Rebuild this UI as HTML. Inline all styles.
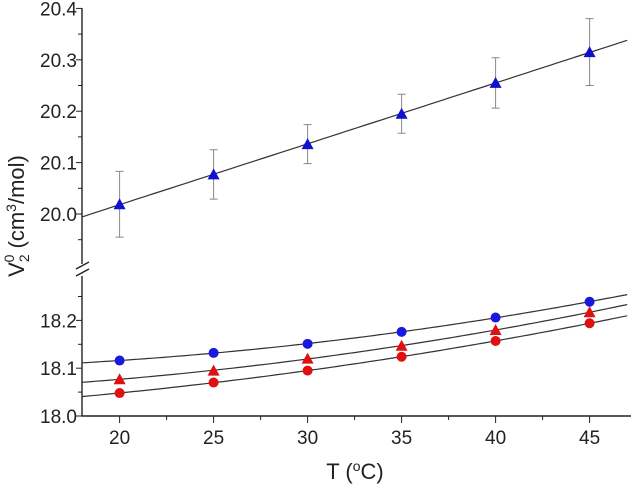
<!DOCTYPE html>
<html><head><meta charset="utf-8"><style>
body{margin:0;background:#fff;}
svg{display:block;font-family:"Liberation Sans",Arial,sans-serif;}
</style></head><body>
<svg id="chart" width="631" height="486" viewBox="0 0 631 486"></svg>
<script>
const temps=[20,25,30,35,40,45];
const upperVals=[20.019,20.077,20.136,20.195,20.255,20.315];
const upperErr=[0.064,0.048,0.038,0.038,0.049,0.065];
const blueCircles=[18.116,18.132,18.151,18.176,18.206,18.239];
const redTriangles=[18.077,18.095,18.120,18.147,18.180,18.217];
const redCircles=[18.048,18.070,18.095,18.124,18.157,18.194];
const xTicks=[20,25,30,35,40,45];
const upperTicks=[20.0,20.1,20.2,20.3,20.4];
const lowerTicks=[18.0,18.1,18.2];

const NS="http://www.w3.org/2000/svg";
const svg=document.getElementById('chart');
const X=t=>82+(t-18)*18.8;
const YU=v=>214-(v-20.0)*514;
const YL=v=>416-(v-18.0)*478;
function el(tag,attrs,parent){const e=document.createElementNS(NS,tag);for(const k in attrs)e.setAttribute(k,attrs[k]);(parent||svg).appendChild(e);return e;}

function fit(xs,ys,deg){const n=deg+1;const A=[];for(let i=0;i<n;i++){A.push(new Array(n+1).fill(0));}
 xs.forEach((x,k)=>{for(let i=0;i<n;i++){for(let j=0;j<n;j++)A[i][j]+=Math.pow(x-30,i+j);A[i][n]+=ys[k]*Math.pow(x-30,i);}});
 for(let i=0;i<n;i++){for(let r=i+1;r<n;r++){const f=A[r][i]/A[i][i];for(let c=i;c<=n;c++)A[r][c]-=f*A[i][c];}}
 const c=new Array(n).fill(0);for(let i=n-1;i>=0;i--){let s=A[i][n];for(let j=i+1;j<n;j++)s-=A[i][j]*c[j];c[i]=s/A[i][i];}
 return x=>c.reduce((s,ci,i)=>s+ci*Math.pow(x-30,i),0);}

function curve(fn,Y,name){let d='';for(let t=18;t<=47.01;t+=0.25){d+=(d?'L':'M')+X(t).toFixed(1)+','+Y(fn(t)).toFixed(1);}
 const p=el('path',{d:d,fill:'none',stroke:'#333',"stroke-width":1.2});
 
 }

const ax=el('g',{});


el('path',{d:'M82,8 V264 M82,276 V416 H631',fill:'none',stroke:'#222',"stroke-width":1.4},ax);
el('path',{d:'M76,269 L89,262 M76,276 L89,269',fill:'none',stroke:'#222',"stroke-width":1.4},ax);
xTicks.forEach(t=>{el('line',{x1:X(t),x2:X(t),y1:416,y2:423,stroke:'#222'},ax);
 el('line',{x1:X(t+2.5),x2:X(t+2.5),y1:416,y2:420,stroke:'#222'},ax);
 const tx=el('text',{x:X(t),y:444,"text-anchor":'middle',"font-size":19,fill:'#222'},ax);tx.textContent=t;
 
 });
upperTicks.forEach(v=>{el('line',{x1:82,x2:76,y1:YU(v),y2:YU(v),stroke:'#222'},ax);
 if(v<20.4)el('line',{x1:82,x2:78,y1:YU(v+0.05),y2:YU(v+0.05),stroke:'#222'},ax);
 const tx=el('text',{x:77,y:YU(v)+7,"text-anchor":'end',"font-size":19,fill:'#222'},ax);tx.textContent=v.toFixed(1);
 
 });
el('line',{x1:82,x2:78,y1:YU(19.95),y2:YU(19.95),stroke:'#222'},ax);
lowerTicks.forEach(v=>{el('line',{x1:82,x2:76,y1:YL(v),y2:YL(v),stroke:'#222'},ax);
 el('line',{x1:82,x2:78,y1:YL(v+0.05),y2:YL(v+0.05),stroke:'#222'},ax);
 const tx=el('text',{x:77,y:YL(v)+7,"text-anchor":'end',"font-size":19,fill:'#222'},ax);tx.textContent=v.toFixed(1);
 
 });
const xt=el('text',{x:355,y:479,"text-anchor":'middle',"font-size":22,fill:'#222'});
xt.innerHTML='T (<tspan baseline-shift="super" font-size="14">o</tspan>C)';


const yt=el('text',{x:0,y:0,transform:'translate(24,216) rotate(-90)',"text-anchor":'middle',"font-size":22,fill:'#222'});
yt.innerHTML='V<tspan font-size="14" dy="5">2</tspan><tspan font-size="14" dx="-8" dy="-15">0</tspan><tspan dy="10"> (cm</tspan><tspan font-size="14" dy="-8">3</tspan><tspan dy="8">/mol)</tspan>';



curve(fit(temps,upperVals,1),YU,'upper-fit-line');
curve(fit(temps,blueCircles,2),YL,'blue-circle-fit');
curve(fit(temps,redTriangles,2),YL,'red-triangle-fit');
curve(fit(temps,redCircles,2),YL,'red-circle-fit');

function tri(cx,cy,color,name){const p=el('path',{d:`M${cx},${cy-6} L${cx+6},${cy+5} L${cx-6},${cy+5} Z`,fill:color});
 
 }
function circ(cx,cy,color,name){const c=el('circle',{cx:cx,cy:cy,r:5,fill:color});
 
 }

temps.forEach((t,i)=>{const x=X(t);
 const e=el('path',{d:`M${x},${YU(upperVals[i]+upperErr[i])} V${YU(upperVals[i]-upperErr[i])} M${x-4},${YU(upperVals[i]+upperErr[i])} H${x+4} M${x-4},${YU(upperVals[i]-upperErr[i])} H${x+4}`,stroke:'#888',fill:'none',"stroke-width":1});
 
 
 tri(x,YU(upperVals[i]),'#1010d0','upper-triangle-point');
 circ(x,YL(blueCircles[i]),'#1818e0','blue-circle-point');
 tri(x,YL(redTriangles[i]),'#e01010','red-triangle-point');
 circ(x,YL(redCircles[i]),'#e01010','red-circle-point');
});
</script>
</body></html>
